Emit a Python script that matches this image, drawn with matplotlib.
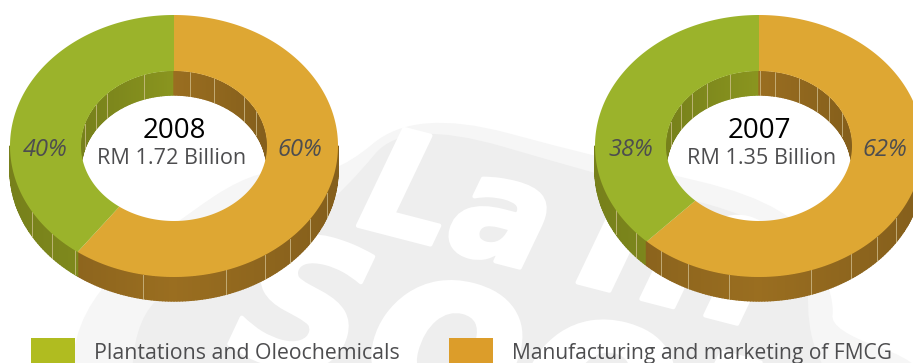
import numpy as np
import matplotlib
matplotlib.use("Agg")
import matplotlib.pyplot as plt
import matplotlib.patheffects as pe
from matplotlib.patches import Ellipse, Polygon, Rectangle
from matplotlib.path import Path
from matplotlib.patches import PathPatch

years = ["2008", "2007"]
totals = ["RM 1.72 Billion", "RM 1.35 Billion"]
plantations = [40, 38]
manufacturing = [60, 62]
legend_labels = ["Plantations and Oleochemicals", "Manufacturing and marketing of FMCG"]

FONT = "Open Sans"
GREEN = "#9bb32b"
ORANGE = "#dea733"
GREEN_WALL = "#8a951f"
ORANGE_WALL = "#9a6e20"
TEXT = "#4d4d4f"

RX, RY = 164, 131
IRX, IRY = 93, 75
DEPTH = 24
CY = 146

fig = plt.figure(figsize=(9.13, 3.63), dpi=100)
ax = fig.add_axes([0, 0, 1, 1])
ax.set_xlim(0, 913)
ax.set_ylim(363, 0)
ax.axis("off")


def smooth_shape(points, color, z):
    # closed outline with rounded corners, midpoints as on-curve points
    pts = np.array(points, dtype=float)
    mids = (pts + np.roll(pts, -1, axis=0)) / 2
    verts = [mids[-1]]
    codes = [Path.MOVETO]
    for p, m in zip(pts, mids):
        verts += [p, m]
        codes += [Path.CURVE3, Path.CURVE3]
    ax.add_patch(PathPatch(Path(verts, codes), fc=color, ec="none", zorder=z))


def logo_text(x, y, s, size):
    ax.text(x, y, s, fontsize=size, family="DejaVu Sans", weight="bold", style="oblique", color="white",
            rotation=-14.5, rotation_mode="anchor", ha="left", va="baseline", zorder=3,
            path_effects=[pe.withStroke(linewidth=3, foreground="white")])


# faint logo behind the rings
smooth_shape([(415, 108), (600, 158), (800, 205), (835, 300), (830, 330), (930, 365), (930, 420),
              (70, 420), (75, 310), (170, 225), (262, 165), (330, 180)], "#f6f6f6", 1)
smooth_shape([(405, 118), (600, 175), (810, 232), (806, 330), (830, 380), (830, 420), (130, 420),
              (135, 315), (190, 275), (300, 225), (345, 190)], "#eeeeee", 2)
logo_text(355, 225, "La", 104)
logo_text(572, 281, "m", 135)
logo_text(225, 350, "S", 130)
logo_text(355, 387, "oon", 165)


def ring_point(cx, a, rx, ry):
    # a is degrees clockwise from twelve o'clock
    r = np.radians(a)
    return cx + rx * np.sin(r), CY - ry * np.cos(r)


def shade(color, a):
    rgb = np.array(matplotlib.colors.to_rgb(color))
    return rgb * (1 - 0.14 * abs(np.sin(np.radians(a))))


def draw_ring(cx, year, total, share_a, share_b, outer_seams, inner_seams):
    split = 360 * share_b / (share_a + share_b)

    # outer side wall
    for a in np.arange(90, 270, 1.0):
        color = ORANGE_WALL if a < split else GREEN_WALL
        x0, y0 = ring_point(cx, a, RX, RY)
        x1, y1 = ring_point(cx, a + 1, RX, RY)
        ax.add_patch(Polygon([(x0, y0), (x1, y1), (x1, y1 + DEPTH), (x0, y0 + DEPTH)],
                             fc=shade(color, a), ec=shade(color, a), lw=1.0, joinstyle="round", zorder=4))
    for dx in outer_seams:
        t = np.degrees(np.arcsin(dx / RX))
        y = CY + RY * np.cos(np.radians(t))
        ax.plot([cx + dx, cx + dx], [y, y + DEPTH], color="#d8c89a", lw=0.7, alpha=0.7, zorder=5)

    # inner wall seen through the hole
    clip = Ellipse((cx, CY), 2 * IRX, 2 * IRY, transform=ax.transData)
    for a in np.arange(-90, 90, 1.0):
        color = ORANGE_WALL if a >= 0 else GREEN_WALL
        x0, y0 = ring_point(cx, a, IRX, IRY)
        x1, y1 = ring_point(cx, a + 1, IRX, IRY)
        p = Polygon([(x0, y0), (x1, y1), (x1, y1 + DEPTH), (x0, y0 + DEPTH)],
                    fc=shade(color, a), ec=shade(color, a), lw=1.0, zorder=4)
        ax.add_patch(p)
        p.set_clip_path(clip)
    for dx in inner_seams:
        t = np.arcsin(dx / IRX)
        y = CY - IRY * np.cos(t)
        line = ax.plot([cx + dx, cx + dx], [y, y + DEPTH], color="#d8c89a", lw=0.7, alpha=0.7, zorder=5)[0]
        line.set_clip_path(clip)

    # flat top face
    for start, end, color in [(0, split, ORANGE), (split, 360, GREEN)]:
        angles = np.linspace(start, end, 200)
        outer = [ring_point(cx, a, RX, RY) for a in angles]
        inner = [ring_point(cx, a, IRX, IRY) for a in angles[::-1]]
        ax.add_patch(Polygon(outer + inner, fc=color, ec="none", zorder=6))

    ax.text(cx, 131, year, fontsize=20, family=FONT, color="black", ha="center", va="center", zorder=7)
    ax.text(cx - 2 if year == "2008" else cx + 2.5, 158, total, fontsize=15.6, family=FONT, color=TEXT,
            ha="center", va="center", zorder=7)
    ax.text(cx - 128.5, 150, f"{share_a}%", fontsize=17, family=FONT, style="italic", color=TEXT,
            ha="center", va="center", zorder=7)
    ax.text(cx + 125.5, 150, f"{share_b}%", fontsize=17, family=FONT, style="italic", color=TEXT,
            ha="center", va="center", zorder=7)


draw_ring(174, years[0], totals[0], plantations[0], manufacturing[0],
          [-142, -122, -99, -31, 52, 91, 116, 136, 153],
          [-89, -78, -67, -30, 16, 40, 70, 82])
draw_ring(759, years[1], totals[1], plantations[1], manufacturing[1],
          [-143, -123, -98, -71, -30, 52, 92, 118, 137],
          [-88, -78, -67, -52, -29, 1, 16, 40, 58, 70, 83])

# legend
ax.add_patch(Rectangle((31, 338), 44, 30, fc="#b0bc20", ec="none", zorder=7))
ax.add_patch(Rectangle((449, 338), 44, 30, fc="#dc9d2a", ec="none", zorder=7))
ax.text(94, 359, legend_labels[0], fontsize=15.3, family=FONT, color=TEXT, va="baseline", zorder=7)
ax.text(512, 359, legend_labels[1], fontsize=15.1, family=FONT, color=TEXT, va="baseline", zorder=7)

fig.savefig("out.png", dpi=100)
